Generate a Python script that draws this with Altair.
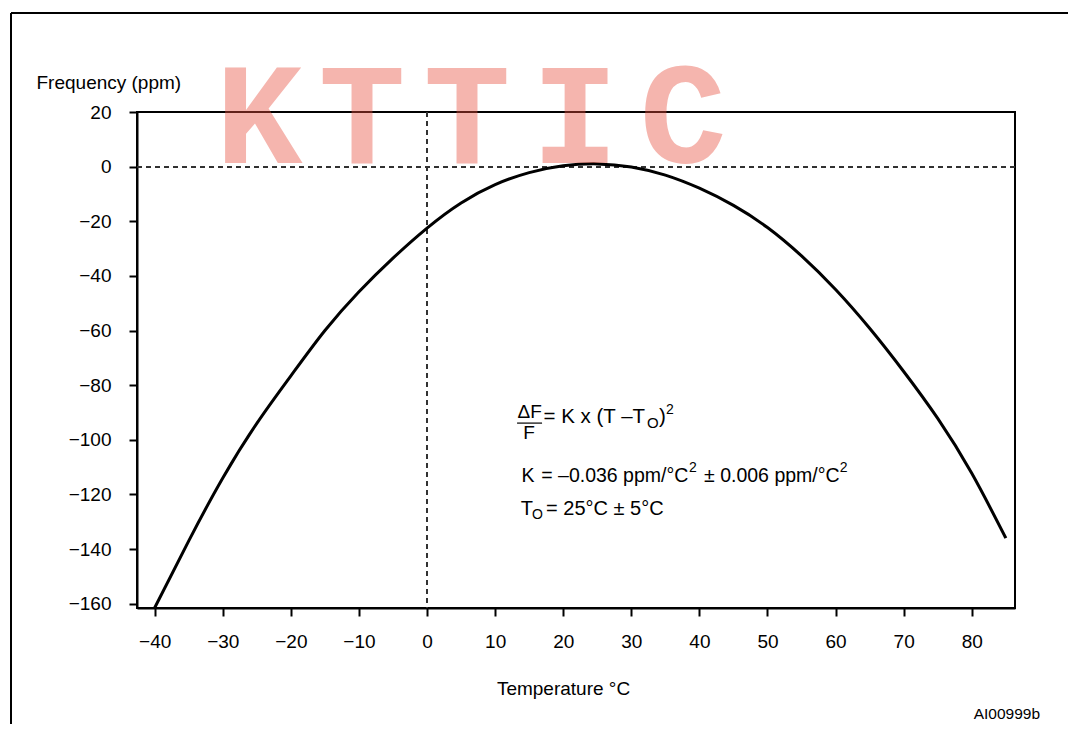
import altair as alt
import pandas as pd

# Curve (°C, ppm)
temps = [-40, -35, -30, -25, -20, -15, -10, -5, 0, 5, 10, 15, 20, 25,
         30, 35, 40, 45, 50, 55, 60, 65, 70, 75, 80, 85]
ppm = [-161.5, -137, -114, -94, -76.6, -60, -45.8, -33.5, -22.5, -13.3,
       -6.6, -2.2, 0.3, 1.0, -0.1, -3.1, -7.9, -14.2, -22.3, -32.7, -45,
       -59.2, -75, -92.2, -112.3, -136]

x_ticks = list(range(-40, 90, 5))
y_ticks = list(range(-160, 30, 10))

# Formula annotation pieces (placed in data units)
ann_text = ["= K x (T –T", "O", ")", "2",
            "K", "= –0.036 ppm/°C", "2", "± 0.006 ppm/°C", "2",
            "T", "O", "= 25°C ± 5°C"]
ann_x = [17.11, 32.31, 34.07, 35.09, 13.88, 16.77, 38.48, 40.68, 60.60, 13.76, 15.42, 17.48]
ann_y = [-91.7, -93.9, -91.7, -89.1, -113.3, -113.3, -110.3, -113.3, -110.3, -125.4, -127.5, -125.4]
ann_size = [20.5, 15, 20.5, 14, 19.5, 19.5, 14, 19.5, 14, 20, 14, 20]

frac_text = ["ΔF", "F"]
frac_x = [15.07, 14.98]
frac_y = [-90.0, -97.4]
frac_bar_x = [13.22]
frac_bar_x2 = [16.89]
frac_bar_y = [-93.9]

code_text = ["AI00999b"]
code_x = [90.03]
code_y = [-200.4]

wm_letters = ["K", "T", "T", "I", "C"]
wm_x = [-24.67, -9.55, 5.87, 21.74, 37.60]
wm_y = [1.33, 1.33, 1.33, 1.33, 1.33]

FONT = "Liberation Sans"

df = pd.DataFrame({"T": temps, "ppm": ppm})
ann = pd.DataFrame({"T": ann_x, "ppm": ann_y, "text": ann_text, "size": ann_size})
frac = pd.DataFrame({"T": frac_x, "ppm": frac_y, "text": frac_text})
bar = pd.DataFrame({"T": frac_bar_x, "T2": frac_bar_x2, "ppm": frac_bar_y})
code = pd.DataFrame({"T": code_x, "ppm": code_y, "text": code_text})
wm = pd.DataFrame({"T": wm_x, "ppm": wm_y, "text": wm_letters})

xscale = alt.Scale(domain=[-42.6, 86.35], nice=False, zero=False)
yscale = alt.Scale(domain=[-161.6, 20], nice=False, zero=False)

minus = "replace(format(datum.value, 'd'), '-', '–')"

x_axis = alt.Axis(
    values=x_ticks,
    labelExpr=f"datum.value % 10 === 0 ? {minus} : ''",
    title="Temperature °C", titleX=426, titleY=80, titleBaseline="middle",
    titleAlign="center", labelPadding=16, tickSize=8, grid=False,
    labelFlush=False, labelOverlap=False,
)
y_axis = alt.Axis(
    values=y_ticks,
    labelExpr=f"datum.value % 20 === 0 ? {minus} : ''",
    title="Frequency (ppm)", titleAngle=0, titleX=-101, titleY=-30,
    titleAlign="left", titleBaseline="middle", labelPadding=18, tickSize=8,
    grid=False, labelFlush=False, labelOverlap=False,
)

X = alt.X("T:Q", scale=xscale, axis=x_axis)
Y = alt.Y("ppm:Q", scale=yscale, axis=y_axis)

curve = alt.Chart(df).mark_line(
    color="black", strokeWidth=3, interpolate="natural"
).encode(x=X, y=Y)

hzero = alt.Chart(df).mark_rule(
    color="#333333", strokeWidth=1.3, strokeDash=[5, 4]
).encode(y=alt.datum(0))
vzero = alt.Chart(df).mark_rule(
    color="#333333", strokeWidth=1.3, strokeDash=[5, 4]
).encode(x=alt.datum(0))

ann_layer = alt.Chart(ann).mark_text(
    align="left", baseline="middle", font=FONT, color="black"
).encode(
    x=alt.X("T:Q"), y=alt.Y("ppm:Q"), text="text:N",
    size=alt.Size("size:Q", scale=None, legend=None),
)
frac_layer = alt.Chart(frac).mark_text(
    align="center", baseline="middle", font=FONT, fontSize=19, color="black"
).encode(x=alt.X("T:Q"), y=alt.Y("ppm:Q"), text="text:N")
bar_layer = alt.Chart(bar).mark_rule(color="black", strokeWidth=1.2).encode(
    x=alt.X("T:Q"), x2="T2:Q", y=alt.Y("ppm:Q")
)
code_layer = alt.Chart(code).mark_text(
    align="right", baseline="middle", font=FONT, fontSize=15.5, color="black"
).encode(x=alt.X("T:Q"), y=alt.Y("ppm:Q"), text="text:N")

# figure frame (page decoration)
frame_left = alt.Chart(df).mark_rule(color="black", strokeWidth=2).encode(
    x=alt.value(-126), y=alt.value(-99), y2=alt.value(612)
)
frame_top = alt.Chart(df).mark_rule(color="black", strokeWidth=2).encode(
    y=alt.value(-99), x=alt.value(-126), x2=alt.value(931)
)

wm_layer = alt.Chart(wm).mark_text(
    align="center", baseline="alphabetic", font="Liberation Mono",
    fontWeight="bold", fontSize=145, color="#e8503f", opacity=0.42
).encode(x=alt.X("T:Q"), y=alt.Y("ppm:Q"), text="text:N")

chart = alt.layer(
    hzero, vzero, curve, ann_layer, frac_layer, bar_layer, code_layer,
    frame_left, frame_top, wm_layer
).properties(
    width=878, height=496,
    padding={"left": 129, "top": 104, "right": 53, "bottom": 116},
    autosize=alt.AutoSizeParams(type="none"),
    background="white",
).configure_view(
    stroke="black", strokeWidth=2
).configure_axis(
    domainColor="black", domainWidth=2, tickColor="black", tickWidth=2,
    labelColor="black", labelFont=FONT, labelFontSize=19,
    titleColor="black", titleFont=FONT, titleFontSize=19, titleFontWeight="normal",
)

chart.save("out.html", embed_options={"renderer": "svg", "actions": False})
